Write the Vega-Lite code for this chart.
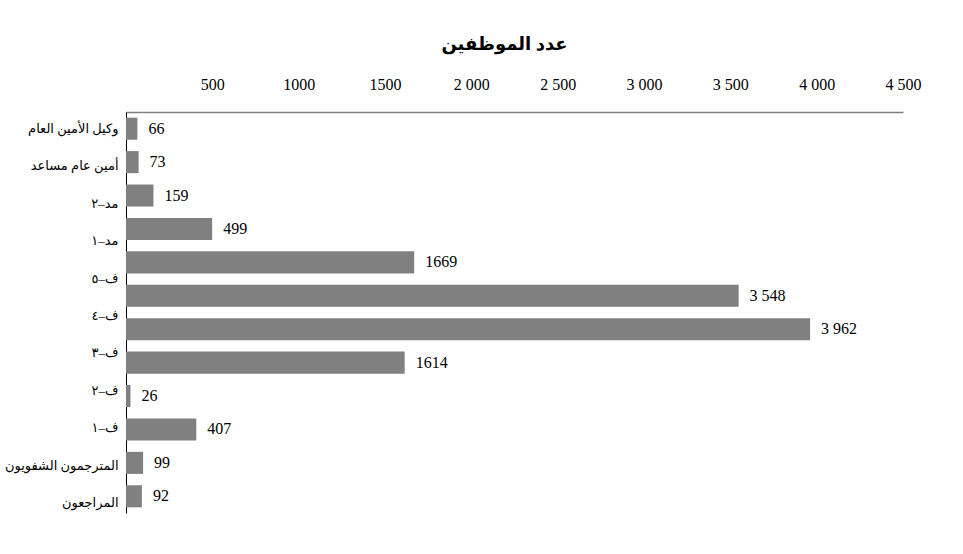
{
  "$schema": "https://vega.github.io/schema/vega-lite/v6.json",
  "width": 777,
  "height": 401,
  "autosize": {"type": "none"},
  "padding": {"left": 126, "top": 112, "right": 60, "bottom": 41},
  "background": "white",
  "title": {
    "text": "عدد الموظفين",
    "fontSize": 18,
    "fontWeight": "bold",
    "font": "Liberation Serif, DejaVu Sans",
    "color": "black",
    "anchor": "middle",
    "dx": -10,
    "offset": 22
  },
  "config": {
    "view": {"stroke": null},
    "font": "Liberation Serif",
    "axis": {"labelFont": "Liberation Serif, DejaVu Sans", "labelColor": "black"}
  },
  "datasets": {
    "bars": [
      {"id": "b01", "value": 66, "label": "66"},
      {"id": "b02", "value": 73, "label": "73"},
      {"id": "b03", "value": 159, "label": "159"},
      {"id": "b04", "value": 499, "label": "499"},
      {"id": "b05", "value": 1669, "label": "1669"},
      {"id": "b06", "value": 3548, "label": "3 548"},
      {"id": "b07", "value": 3962, "label": "3 962"},
      {"id": "b08", "value": 1614, "label": "1614"},
      {"id": "b09", "value": 26, "label": "26"},
      {"id": "b10", "value": 407, "label": "407"},
      {"id": "b11", "value": 99, "label": "99"},
      {"id": "b12", "value": 92, "label": "92"}
    ],
    "names": [
      {"name": "وكيل الأمين العام"},
      {"name": "أمين عام مساعد"},
      {"name": "مد–٢"},
      {"name": "مد–١"},
      {"name": "ف–٥"},
      {"name": "ف–٤"},
      {"name": "ف–٣"},
      {"name": "ف–٢"},
      {"name": "ف–١"},
      {"name": "المترجمون الشفويون"},
      {"name": "المراجعون"}
    ]
  },
  "layer": [
    {
      "data": {"name": "bars"},
      "encoding": {
        "y": {
          "field": "id",
          "type": "nominal",
          "sort": null,
          "scale": {"paddingInner": 0.34, "paddingOuter": 0.17},
          "axis": null
        },
        "x": {
          "field": "value",
          "type": "quantitative",
          "scale": {"domain": [0, 4500], "nice": false},
          "axis": {
            "orient": "top",
            "title": null,
            "values": [500, 1000, 1500, 2000, 2500, 3000, 3500, 4000, 4500],
            "labelExpr": "datum.value < 2000 ? format(datum.value, 'd') : replace(format(datum.value, ','), ',', ' ')",
            "labelFontSize": 16,
            "labelPadding": 20,
            "ticks": false,
            "grid": false,
            "domain": true,
            "domainColor": "#808080",
            "domainWidth": 1.5,
            "labelFlush": false,
            "labelOverlap": false
          }
        }
      },
      "layer": [
        {"mark": {"type": "bar", "color": "#808080"}},
        {
          "mark": {"type": "text", "align": "left", "baseline": "middle", "dx": 11, "fontSize": 16, "color": "black", "font": "Liberation Serif"},
          "encoding": {"text": {"field": "label", "type": "nominal"}}
        }
      ]
    },
    {
      "data": {"name": "names"},
      "mark": {"type": "point", "opacity": 0},
      "encoding": {
        "y": {
          "field": "name",
          "type": "nominal",
          "sort": null,
          "scale": {"type": "point", "padding": 0.36},
          "axis": {
            "orient": "left",
            "title": null,
            "ticks": false,
            "domain": true,
            "domainColor": "black",
            "domainWidth": 1,
            "labelFontSize": 13,
            "labelPadding": 8,
            "labelOffset": 3,
            "labelOverlap": false,
            "labelLimit": 0
          }
        }
      }
    }
  ],
  "resolve": {"scale": {"y": "independent"}, "axis": {"y": "independent"}}
}
